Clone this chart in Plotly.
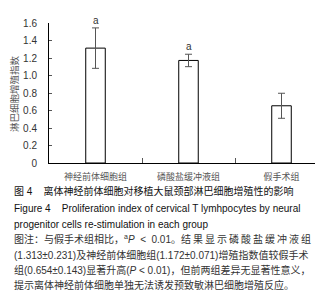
import plotly.graph_objects as go

categories = ["神经前体细胞组", "磷酸盐缓冲液组", "假手术组"]
means = [1.313, 1.172, 0.654]
errors = [0.231, 0.071, 0.143]
marks = ["a", "a", ""]
ytick_vals = [0, 0.2, 0.4, 0.6, 0.8, 1.0, 1.2, 1.4, 1.6]
ytick_text = ["0", "0.2", "0.4", "0.6", "0.8", "1.0", "1.2", "1.4", "1.6"]
y_title = "淋巴细胞增殖指数"
TS = "\u2009"
NB = "\u00a0"
caption_lines = [
    "图 4    离体神经前体细胞对移植大鼠颈部淋巴细胞增殖性的影响",
    "Figure 4    Proliferation index of cervical T lymhpocytes by neural",
    "progenitor cells re-stimulation in each group",
    "图注：与假手术组相比，<sup>a</sup><i>P</i>" + NB * 2 + "&lt;" + NB * 2 + "0.01。"
    + TS.join("结果显示磷酸盐缓冲液组"),
    "(1.313±0.231)及神经前体细胞组(1.172±0.071)增殖指数值较假手术",
    "组(0.654±0.143)显著升高(<i>P</i> &lt; 0.01)，但前两组差异无显著性意义，",
    "提示离体神经前体细胞单独无法诱发预致敏淋巴细胞增殖反应。",
]

FONT = "Liberation Sans, Arial, Noto Sans CJK SC, sans-serif"
W, H = 323, 294
L, R, T, B = 41, 3, 15, 139
PW, PH = W - L - R, H - T - B

def px_x(x):
    return (x - L) / PW

def px_y(y):
    return (H - B - y) / PH

fig = go.Figure()
fig.add_trace(go.Bar(
    x=categories, y=means, width=0.21,
    marker=dict(color="white", line=dict(color="black", width=1)),
    error_y=dict(type="data", array=errors, color="#555555", thickness=1, width=3.5),
    cliponaxis=False,
))

for c, m, e, t in zip(categories, means, errors, marks):
    if t:
        fig.add_annotation(x=c, y=m + e, text=t, showarrow=False, yanchor="bottom",
                           yshift=0, font=dict(size=10, color="#333333", family=FONT))

fig.add_annotation(xref="paper", yref="paper", x=px_x(6), y=px_y(86), text=y_title,
                   textangle=-90, showarrow=False, xanchor="center", yanchor="middle",
                   font=dict(size=9.5, color="#555555", family=FONT))

line_y = [183, 200, 216, 231, 247, 262, 277]
for i, (txt, yy) in enumerate(zip(caption_lines, line_y)):
    color = "#111111" if i < 3 else "#333333"
    fig.add_annotation(xref="paper", yref="paper", x=px_x(4), y=px_y(yy), text=txt,
                       showarrow=False, xanchor="left", yanchor="middle",
                       font=dict(size=10, color=color, family=FONT))

fig.update_layout(
    width=W, height=H, margin=dict(l=L, r=R, t=T, b=B),
    plot_bgcolor="white", paper_bgcolor="white", showlegend=False,
    font=dict(family=FONT),
)
fig.update_xaxes(showline=True, linecolor="black", linewidth=1, ticks="inside", ticklen=5,
                 tickcolor="#555555", tickson="boundaries", showgrid=False,
                 tickfont=dict(size=9, color="#555555", family=FONT), ticklabelstandoff=5)
fig.update_yaxes(range=[0, 1.6], showline=True, linecolor="black", linewidth=1,
                 ticks="inside", ticklen=3, tickcolor="#555555", showgrid=False, zeroline=False,
                 tickmode="array", tickvals=ytick_vals, ticktext=ytick_text, ticklabelstandoff=9,
                 tickfont=dict(size=10, color="#333333", family=FONT))

fig.write_html("out.html")
